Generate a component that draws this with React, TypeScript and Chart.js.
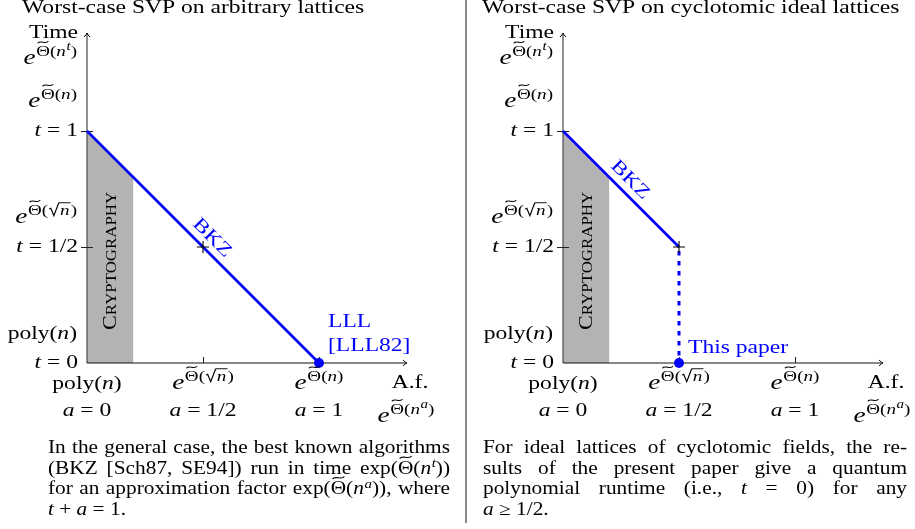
import React, { useEffect, useRef } from 'react';
import { Chart, registerables } from 'chart.js';

Chart.register(...registerables);

// ---------- data ----------
const A_TICKS = [0, 0.5, 1];
const T_TICKS = [0, 0.5, 1];
const A_TICK_LABELS = ['*a = 0', '*a = 1/2', '*a = 1'];
const T_TICK_LABELS = ['*t = 0', '*t = 1/2', '*t = 1'];
const COST_LABELS = ['poly(*n)', '*e^{~(√*n)}', '*e^{~(*n)}'];
const Y_AXIS_NAME = 'Time';
const Y_AXIS_UNIT = '*e^{~(*n^t)}';
const X_AXIS_NAME = 'A.f.';
const X_AXIS_UNIT = '*e^{~(*n^a)}';

const CRYPTO_BOUNDARY = [{ x: 0, y: 1 }, { x: 0.2, y: 0.8 }];
const BKZ_ARBITRARY = [{ x: 0, y: 1 }, { x: 1, y: 0 }];
const BKZ_CYCLOTOMIC = [{ x: 0, y: 1 }, { x: 0.5, y: 0.5 }];
const THIS_PAPER_DROP = [{ x: 0.5, y: 0.5 }, { x: 0.5, y: 0 }];
const LLL_POINT = [{ x: 1, y: 0 }];
const THIS_PAPER_POINT = [{ x: 0.5, y: 0 }];
const BKZ_MARK = [{ x: 0.5, y: 0.5 }];

const LEFT_TITLE = 'Worst-case SVP on arbitrary lattices';
const RIGHT_TITLE = 'Worst-case SVP on cyclotomic ideal lattices';
const LEFT_CAPTION = [
  'In the general case, the best known algorithms',
  '(BKZ [Sch87, SE94]) run in time exp(~(*n^t))',
  'for an approximation factor exp(~(*n^a)), where',
  '*t + *a = 1.',
];
const RIGHT_CAPTION = [
  'For ideal lattices of cyclotomic fields, the re-',
  'sults of the present paper give a quantum',
  'polynomial runtime (i.e., *t = 0) for any',
  '*a ≥ 1/2.',
];

// ---------- style ----------
const FONT = '"Liberation Serif", "Times New Roman", serif';
const BASE = 19;
const E_BASE = 22;
const CAPTION_BASE = 18;
const SX = 1.24;
const CAPTION_SX = 1.185;
const BLUE = '#0000ff';
const GRAY_FILL = '#b3b3b3';
const X_MAX = 320 / 232;
const Y_MAX = 330 / 232;

// ---------- rich text ----------
type Tok =
  | { k: 't'; s: string; it?: boolean }
  | { k: 'th' }
  | { k: 'sq'; c: Tok[] }
  | { k: 'sup'; c: Tok[] };

function parse(s: string): Tok[] {
  let i = 0;
  const group = (): Tok[] => {
    const out: Tok[] = [];
    let buf = '';
    const flush = () => {
      if (buf) { out.push({ k: 't', s: buf }); buf = ''; }
    };
    const one = (): Tok[] => {
      const c = s[i];
      if (c === '{') { i++; return group(); }
      if (c === '*') { i++; const ch = s[i++]; return [{ k: 't', s: ch, it: true }]; }
      if (c === '~') { i++; return [{ k: 'th' }]; }
      i++;
      return [{ k: 't', s: c, it: true }];
    };
    while (i < s.length) {
      const c = s[i];
      if (c === '}') { i++; break; }
      if (c === '~') { flush(); out.push({ k: 'th' }); i++; }
      else if (c === '*') { flush(); i++; out.push({ k: 't', s: s[i], it: true }); i++; }
      else if (c === '^') { flush(); i++; out.push({ k: 'sup', c: one() }); }
      else if (c === '√') { flush(); i++; out.push({ k: 'sq', c: one() }); }
      else { buf += c; i++; }
    }
    flush();
    return out;
  };
  return group();
}

const sz = (lvl: number, base: number) => (lvl === 0 ? base : lvl === 1 ? base * 0.7 : base * 0.55);
const fontOf = (size: number, it?: boolean) => `${it ? 'italic ' : ''}${size}px ${FONT}`;
const raiseOf = (lvl: number, base: number) => (lvl === 0 ? base * 0.36 : sz(lvl, base) * 0.42);
const baseFor = (src: string) => (src.startsWith('*e^') ? E_BASE : BASE);

function meas(ctx: CanvasRenderingContext2D, toks: Tok[], lvl: number, base: number): number {
  let w = 0;
  const s = sz(lvl, base);
  for (const t of toks) {
    if (t.k === 't') { ctx.font = fontOf(s, t.it); w += ctx.measureText(t.s).width; }
    else if (t.k === 'th') { ctx.font = fontOf(s); w += ctx.measureText('Θ').width; }
    else if (t.k === 'sq') { w += s * 0.62 + meas(ctx, t.c, lvl, base) + s * 0.06; }
    else { w += 0.5 + meas(ctx, t.c, lvl + 1, base); }
  }
  return w;
}

function drawT(ctx: CanvasRenderingContext2D, toks: Tok[], x: number, y: number, lvl: number, base: number): number {
  const s = sz(lvl, base);
  for (const t of toks) {
    if (t.k === 't') {
      ctx.font = fontOf(s, t.it);
      ctx.fillText(t.s, x, y);
      x += ctx.measureText(t.s).width;
    } else if (t.k === 'th') {
      ctx.font = fontOf(s);
      ctx.fillText('Θ', x, y);
      const w = ctx.measureText('Θ').width;
      const cx = x + w / 2;
      const ty = y - s * 0.9;
      const w2 = s * 0.28;
      const a = s * 0.07;
      ctx.beginPath();
      ctx.lineWidth = s * 0.065;
      ctx.moveTo(cx - w2, ty + a);
      ctx.bezierCurveTo(cx - w2 * 0.5, ty - 2.2 * a, cx + w2 * 0.5, ty + 2.2 * a, cx + w2, ty - a);
      ctx.stroke();
      x += w;
    } else if (t.k === 'sq') {
      ctx.beginPath();
      ctx.lineWidth = s * 0.06;
      ctx.moveTo(x + 0.05 * s, y - 0.38 * s);
      ctx.lineTo(x + 0.14 * s, y - 0.44 * s);
      ctx.lineTo(x + 0.3 * s, y + 0.04 * s);
      ctx.lineTo(x + 0.56 * s, y - 0.8 * s);
      ctx.stroke();
      const x1 = drawT(ctx, t.c, x + 0.62 * s, y, lvl, base);
      ctx.beginPath();
      ctx.moveTo(x + 0.56 * s, y - 0.8 * s);
      ctx.lineTo(x1 + 0.06 * s, y - 0.8 * s);
      ctx.stroke();
      x = x1 + 0.06 * s;
    } else {
      x = drawT(ctx, t.c, x + 0.5, y - raiseOf(lvl, base), lvl + 1, base);
    }
  }
  return x;
}

function rich(
  ctx: CanvasRenderingContext2D, src: string, x: number, y: number,
  align: 'left' | 'right' | 'center', color = '#000', base = baseFor(src),
) {
  const toks = parse(src);
  const w = meas(ctx, toks, 0, base) * SX;
  const x0 = align === 'left' ? x : align === 'right' ? x - w : x - w / 2;
  ctx.save();
  ctx.fillStyle = color;
  ctx.strokeStyle = color;
  ctx.textBaseline = 'alphabetic';
  ctx.textAlign = 'left';
  ctx.translate(x0, y);
  ctx.scale(SX, 1);
  drawT(ctx, toks, 0, 0, 0, base);
  ctx.restore();
}

function paragraph(ctx: CanvasRenderingContext2D, lines: string[], x: number, y0: number, width: number, step: number) {
  const b = CAPTION_BASE;
  lines.forEach((line, li) => {
    const words = line.split(' ').map(parse);
    const ws = words.map((w) => meas(ctx, w, 0, b) * CAPTION_SX);
    const sum = ws.reduce((p, c) => p + c, 0);
    const last = li === lines.length - 1;
    const gap = last || words.length < 2 ? b * 0.25 * CAPTION_SX : (width - sum) / (words.length - 1);
    let cx = x;
    const y = y0 + li * step;
    words.forEach((w, wi) => {
      ctx.save();
      ctx.fillStyle = '#000';
      ctx.strokeStyle = '#000';
      ctx.textBaseline = 'alphabetic';
      ctx.textAlign = 'left';
      ctx.translate(cx, y);
      ctx.scale(CAPTION_SX, 1);
      drawT(ctx, w, 0, 0, 0, b);
      ctx.restore();
      cx += ws[wi] + gap;
    });
  });
}

// ---------- panels ----------
interface PanelSpec {
  title: string;
  titleX: number;
  caption: string[];
  captionX: number;
  captionW: number;
  bkzLabelAt: { x: number; y: number };
  blueNotes: { text: string; at: { x: number; y: number }; dx: number; dy: number }[];
}

function diagramPlugin(spec: PanelSpec) {
  return {
    id: 'diagram',
    afterDatasetDraw(chart: any, args: any) {
      if (args.index !== 0) return;
      const ctx: CanvasRenderingContext2D = chart.ctx;
      const xs = chart.scales.x;
      const ys = chart.scales.y;
      const { left, right, top, bottom } = chart.chartArea;
      ctx.save();
      ctx.strokeStyle = '#555';
      ctx.lineWidth = 1.3;
      ctx.beginPath();
      ctx.moveTo(left, bottom);
      ctx.lineTo(left, top);
      ctx.stroke();
      ctx.strokeStyle = '#000';
      ctx.lineWidth = 1;
      ctx.beginPath();
      ctx.moveTo(left - 3, top + 4);
      ctx.quadraticCurveTo(left - 0.5, top + 1.5, left, top);
      ctx.quadraticCurveTo(left + 0.5, top + 1.5, left + 3, top + 4);
      ctx.stroke();
      ctx.strokeStyle = '#111';
      ctx.lineWidth = 1.1;
      ctx.beginPath();
      ctx.moveTo(left, bottom);
      ctx.lineTo(right, bottom);
      ctx.stroke();
      ctx.lineWidth = 1;
      ctx.beginPath();
      ctx.moveTo(right - 4, bottom - 3);
      ctx.quadraticCurveTo(right - 1.5, bottom - 0.5, right, bottom);
      ctx.quadraticCurveTo(right - 1.5, bottom + 0.5, right - 4, bottom + 3);
      ctx.stroke();
      ctx.strokeStyle = '#222';
      ctx.lineWidth = 1;
      T_TICKS.forEach((t) => {
        if (t === 0) return;
        const py = Math.round(ys.getPixelForValue(t)) + 0.5;
        ctx.beginPath();
        ctx.moveTo(left - 6, py);
        ctx.lineTo(left + 6, py);
        ctx.stroke();
      });
      A_TICKS.forEach((a) => {
        if (a === 0) return;
        const px = Math.round(xs.getPixelForValue(a)) + 0.5;
        ctx.beginPath();
        ctx.moveTo(px, bottom - 6);
        ctx.lineTo(px, bottom);
        ctx.stroke();
      });
      ctx.restore();
    },
    afterDraw(chart: any) {
      const ctx: CanvasRenderingContext2D = chart.ctx;
      const xs = chart.scales.x;
      const ys = chart.scales.y;
      const { left, right, top, bottom } = chart.chartArea;
      rich(ctx, spec.title, spec.titleX, 13, 'left');
      rich(ctx, Y_AXIS_NAME, left - 9, top + 5, 'right');
      rich(ctx, Y_AXIS_UNIT, left - 10, 64, 'right');
      T_TICKS.forEach((t, i) => {
        const py = ys.getPixelForValue(t);
        rich(ctx, T_TICK_LABELS[i], left - 9, py + 5, 'right');
        rich(ctx, COST_LABELS[i], left - 10, py - 24, 'right');
      });
      A_TICKS.forEach((a, i) => {
        const px = xs.getPixelForValue(a);
        rich(ctx, COST_LABELS[i], px, bottom + 26, 'center');
        rich(ctx, A_TICK_LABELS[i], px, bottom + 53, 'center');
      });
      rich(ctx, X_AXIS_NAME, right + 3, bottom + 25, 'center');
      rich(ctx, X_AXIS_UNIT, right - 1, bottom + 59, 'center');
      {
        const cx = xs.getPixelForValue(0.1);
        const cy = ys.getPixelForValue(0.44);
        ctx.save();
        ctx.fillStyle = '#000';
        ctx.translate(cx, cy);
        ctx.rotate(-Math.PI / 2);
        ctx.scale(1.2, 1);
        ctx.textBaseline = 'alphabetic';
        ctx.textAlign = 'left';
        ctx.font = fontOf(18.5);
        const wC = ctx.measureText('C').width;
        ctx.font = fontOf(18.5 * 0.76);
        const wR = ctx.measureText('RYPTOGRAPHY').width;
        const x0 = -(wC + wR) / 2;
        const yb = 18.5 * 0.33;
        ctx.font = fontOf(18.5);
        ctx.fillText('C', x0, yb);
        ctx.font = fontOf(18.5 * 0.76);
        ctx.fillText('RYPTOGRAPHY', x0 + wC, yb);
        ctx.restore();
      }
      {
        const px = xs.getPixelForValue(spec.bkzLabelAt.x) + 10;
        const py = ys.getPixelForValue(spec.bkzLabelAt.y) - 10;
        ctx.save();
        ctx.translate(px, py);
        ctx.rotate(Math.PI / 4);
        rich(ctx, 'BKZ', 0, BASE * 0.33, 'center', BLUE);
        ctx.restore();
      }
      spec.blueNotes.forEach((n) => {
        rich(ctx, n.text, xs.getPixelForValue(n.at.x) + n.dx, ys.getPixelForValue(n.at.y) + n.dy, 'left', BLUE);
      });
      paragraph(ctx, spec.caption, spec.captionX, 453, spec.captionW, 20.5);
    },
  };
}

function makeChart(canvas: HTMLCanvasElement, datasets: any[], padding: any, spec: PanelSpec) {
  return new Chart(canvas, {
    type: 'scatter',
    data: { datasets },
    options: {
      animation: false,
      responsive: false,
      maintainAspectRatio: false,
      events: [],
      layout: { padding },
      scales: {
        x: { type: 'linear', min: 0, max: X_MAX, display: false },
        y: { type: 'linear', min: 0, max: Y_MAX, display: false },
      },
      plugins: { legend: { display: false }, tooltip: { enabled: false } },
    },
    plugins: [diagramPlugin(spec)],
  } as any);
}

const cryptoDs = () => ({
  data: CRYPTO_BOUNDARY, showLine: true, fill: 'origin', backgroundColor: GRAY_FILL,
  borderColor: 'rgba(0,0,0,0)', borderWidth: 0, pointRadius: 0, order: 5, clip: false,
});
const lineDs = (data: any[]) => ({
  data, showLine: true, fill: false, borderColor: BLUE, borderWidth: 2.6, pointRadius: 0,
  order: 3, clip: false, borderCapStyle: 'butt',
});
const markDs = () => ({
  data: BKZ_MARK, showLine: false, pointStyle: 'cross', pointRadius: 6, borderColor: '#000',
  borderWidth: 1.1, order: 2, clip: false,
});
const dotDs = (data: any[]) => ({
  data, showLine: false, pointStyle: 'circle', pointRadius: 5, backgroundColor: BLUE,
  borderColor: BLUE, borderWidth: 0, order: 1, clip: false,
});

export default function App() {
  const leftRef = useRef<HTMLCanvasElement>(null);
  const rightRef = useRef<HTMLCanvasElement>(null);
  useEffect(() => {
    const c1 = makeChart(
      leftRef.current!,
      [cryptoDs(), lineDs(BKZ_ARBITRARY), markDs(), dotDs(LLL_POINT)],
      { left: 87, top: 33, right: 55, bottom: 166 },
      {
        title: LEFT_TITLE, titleX: 22, caption: LEFT_CAPTION, captionX: 48, captionW: 402,
        bkzLabelAt: { x: 0.5, y: 0.5 },
        blueNotes: [
          { text: 'LLL', at: LLL_POINT[0], dx: 9, dy: -36 },
          { text: '[LLL82]', at: LLL_POINT[0], dx: 9, dy: -12 },
        ],
      },
    );
    const c2 = makeChart(
      rightRef.current!,
      [
        cryptoDs(), lineDs(BKZ_CYCLOTOMIC),
        { ...lineDs(THIS_PAPER_DROP), borderDash: [4.5, 5.5], borderDashOffset: -4, borderWidth: 3, order: 4 },
        markDs(), dotDs(THIS_PAPER_POINT),
      ],
      { left: 95, top: 33, right: 32, bottom: 166 },
      {
        title: RIGHT_TITLE, titleX: 14, caption: RIGHT_CAPTION, captionX: 15, captionW: 424,
        bkzLabelAt: { x: 0.25, y: 0.75 },
        blueNotes: [{ text: 'This paper', at: THIS_PAPER_POINT[0], dx: 9, dy: -10 }],
      },
    );
    return () => { c1.destroy(); c2.destroy(); };
  }, []);
  return (
    <div style={{ position: 'absolute', left: 0, top: 0, width: 915, height: 529, background: '#fff', overflow: 'hidden' }}>
      <canvas ref={leftRef} width={462} height={529} style={{ position: 'absolute', left: 0, top: 0, width: 462, height: 529 }} />
      <div style={{ position: 'absolute', left: 465, top: 0, width: 2, height: 523, background: '#8a8a8a' }} />
      <canvas ref={rightRef} width={447} height={529} style={{ position: 'absolute', left: 468, top: 0, width: 447, height: 529 }} />
    </div>
  );
}
